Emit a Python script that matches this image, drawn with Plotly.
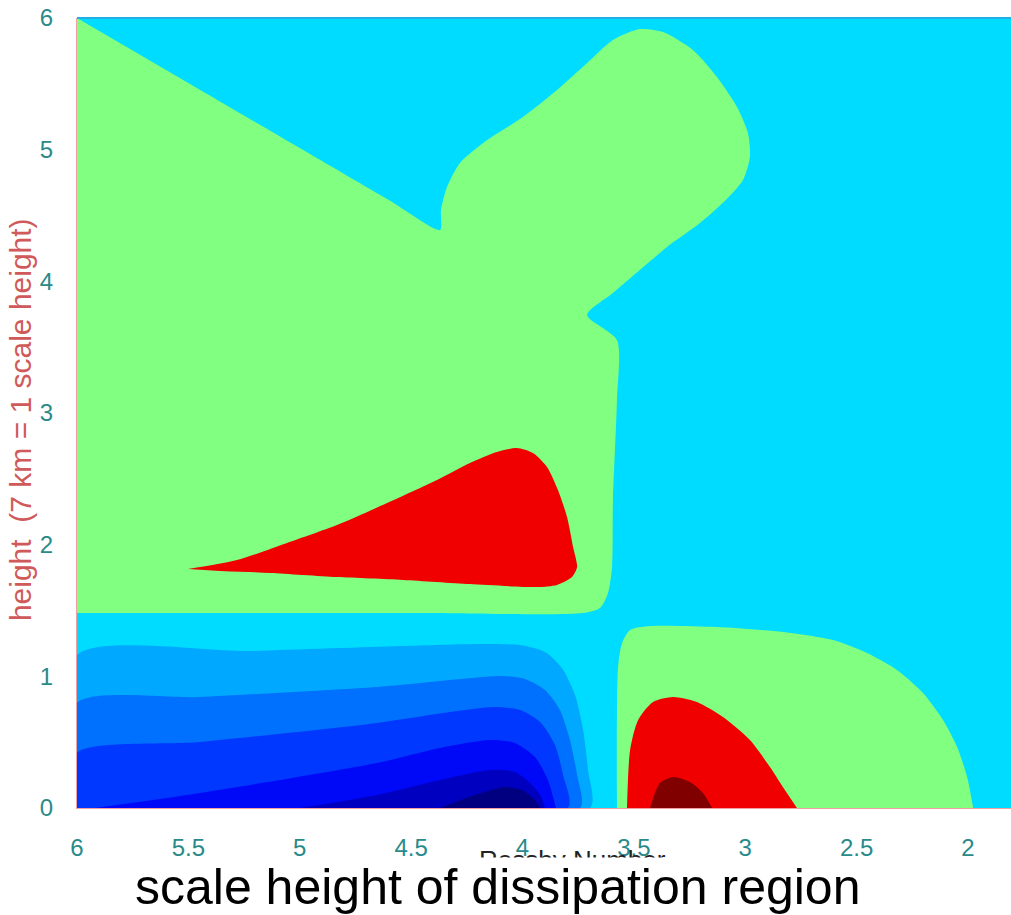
import plotly.graph_objects as go

# ---- axis ticks ----
x_ticks = [6, 5.5, 5, 4.5, 4, 3.5, 3, 2.5, 2]
x_ticktext = ["6", "5.5", "5", "4.5", "4", "3.5", "3", "2.5", "2"]
y_ticks = [0, 1, 2, 3, 4, 5, 6]
y_ticktext = ["0", "1", "2", "3", "4", "5", "6"]

# ---- region boundaries (data units: x = scale height, y = height) ----
green_upper_x = [6.0, 5.5, 5.0, 4.6, 4.370, 4.366, 4.339, 4.281, 4.159, 3.998, 3.845, 3.710, 3.594,
                 3.473, 3.369, 3.235, 3.127, 3.037, 2.988, 2.979, 3.010, 3.100, 3.203, 3.351, 3.473,
                 3.594, 3.710, 3.576, 3.576, 3.594, 3.598, 3.616, 3.652, 3.728, 4.5, 6.0]
green_upper_y = [6.0, 5.506, 5.012, 4.617, 4.390, 4.542, 4.716, 4.899, 5.073, 5.248, 5.453, 5.658, 5.833,
                 5.916, 5.894, 5.757, 5.552, 5.324, 5.127, 4.944, 4.770, 4.596, 4.443, 4.261, 4.086,
                 3.911, 3.744, 3.554, 3.099, 2.339, 1.830, 1.633, 1.519, 1.481, 1.481, 1.481]

red_upper_x = [5.502, 5.282, 5.057, 4.833, 4.608, 4.384, 4.236, 4.115, 4.025, 3.953, 3.890, 3.841,
               3.800, 3.773, 3.755, 3.778, 3.845, 3.935, 4.236, 4.536, 4.833, 5.134, 5.358]
red_upper_y = [1.815, 1.883, 2.013, 2.149, 2.316, 2.491, 2.620, 2.704, 2.734, 2.696, 2.590, 2.415,
               2.210, 1.982, 1.830, 1.754, 1.694, 1.678, 1.701, 1.732, 1.754, 1.785, 1.800]

green_lower_x = [3.576, 3.571, 3.553, 3.517, 3.428, 3.127, 2.830, 2.606, 2.453, 2.319, 2.202,
                 2.112, 2.049, 2.004, 1.977]
green_lower_y = [0.0, 1.071, 1.253, 1.352, 1.382, 1.375, 1.337, 1.276, 1.177, 1.048, 0.873,
                 0.668, 0.463, 0.235, 0.0]

red_lower_x = [3.531, 3.517, 3.481, 3.414, 3.324, 3.217, 3.100, 2.979, 2.889, 2.831, 2.768]
red_lower_y = [0.0, 0.440, 0.668, 0.805, 0.843, 0.805, 0.691, 0.516, 0.311, 0.159, 0.0]

darkred_x = [3.428, 3.383, 3.324, 3.248, 3.190, 3.149]
darkred_y = [0.0, 0.190, 0.235, 0.197, 0.114, 0.0]

blue1_x = [6.0, 5.223, 4.550, 4.191, 4.011, 3.899, 3.823, 3.764, 3.728, 3.706, 3.697]
blue1_y = [1.162, 1.192, 1.230, 1.246, 1.238, 1.185, 1.063, 0.858, 0.592, 0.289, 0.0]
blue2_x = [6.0, 5.448, 4.653, 4.325, 4.101, 3.989, 3.899, 3.832, 3.787, 3.755, 3.742]
blue2_y = [0.797, 0.843, 0.919, 0.972, 1.003, 0.980, 0.896, 0.744, 0.516, 0.251, 0.0]
blue3_x = [6.0, 5.448, 4.653, 4.325, 4.123, 4.011, 3.921, 3.854, 3.818, 3.796]
blue3_y = [0.418, 0.501, 0.646, 0.729, 0.767, 0.744, 0.653, 0.478, 0.251, 0.0]
blue4_x = [5.919, 5.448, 4.653, 4.370, 4.146, 4.034, 3.944, 3.886, 3.850]
blue4_y = [0.0, 0.114, 0.342, 0.456, 0.516, 0.494, 0.387, 0.213, 0.0]
blue5_x = [4.999, 4.653, 4.370, 4.146, 4.034, 3.966, 3.921, 3.899]
blue5_y = [0.0, 0.099, 0.213, 0.289, 0.273, 0.190, 0.099, 0.0]
blue6_x = [4.370, 4.213, 4.079, 4.002, 3.944, 3.921]
blue6_y = [0.0, 0.099, 0.159, 0.137, 0.061, 0.0]

# (x, y, colour, closes along left edge)
regions = [
    (green_upper_x, green_upper_y, "#80FF80", False),
    (red_upper_x, red_upper_y, "#F00000", False),
    (green_lower_x, green_lower_y, "#80FF80", False),
    (red_lower_x, red_lower_y, "#F00000", False),
    (darkred_x, darkred_y, "#800000", False),
    (blue1_x, blue1_y, "#00A8FF", True),
    (blue2_x, blue2_y, "#0070FF", True),
    (blue3_x, blue3_y, "#0038FF", True),
    (blue4_x, blue4_y, "#0008F8", False),
    (blue5_x, blue5_y, "#0000C0", False),
    (blue6_x, blue6_y, "#000080", False),
]

fig = go.Figure()
for xs, ys, col, left_close in regions:
    xs = list(xs)
    ys = list(ys)
    if left_close:
        xs = [6.0] + xs + [6.0]
        ys = [0.0] + ys + [0.0]
    fig.add_trace(go.Scatter(x=xs, y=ys, mode="lines", fill="toself", fillcolor=col,
                             line=dict(width=0, color=col, shape="spline", smoothing=0.7),
                             hoverinfo="skip", showlegend=False))

tick_font = dict(family="Liberation Sans Narrow, Liberation Sans, Arial", size=24, color="#2a8a8a")

fig.update_layout(
    width=1011, height=915,
    margin=dict(l=77, r=0, t=18, b=107),
    paper_bgcolor="white",
    plot_bgcolor="#00DCFF",
    showlegend=False,
    xaxis=dict(range=[6, 1.807], tickmode="array", tickvals=x_ticks, ticktext=x_ticktext,
               showgrid=False, zeroline=False, showline=True, linecolor="#f0a0a0", linewidth=1,
               ticks="", tickfont=tick_font, ticklabelstandoff=18),
    yaxis=dict(range=[0, 6], tickmode="array", tickvals=y_ticks, ticktext=y_ticktext,
               showgrid=False, zeroline=False, showline=True, linecolor="#f0a0a0", linewidth=1,
               ticks="", tickfont=tick_font, ticklabelstandoff=18),
    shapes=[dict(type="line", xref="paper", yref="paper", x0=0, x1=1, y0=1, y1=1,
                 line=dict(color="#20B0E8", width=2))],
    annotations=[
        dict(text="height  (7 km = 1 scale height)", xref="paper", yref="paper", x=0, y=0.491,
             xshift=-57, textangle=-90, showarrow=False, xanchor="center", yanchor="middle",
             font=dict(family="Liberation Sans, Arial", size=30, color="#d05a5a")),
        dict(text="Rossby Number", xref="paper", yref="paper", x=0.531, y=0, yshift=-52,
             showarrow=False, xanchor="center", yanchor="middle",
             font=dict(family="Liberation Sans, Arial", size=26, color="#222222")),
        dict(text="", xref="paper", yref="paper", x=0.5, y=0, yshift=-76, width=1011, height=52,
             bgcolor="white", borderpad=0, showarrow=False, xanchor="center", yanchor="middle"),
        dict(text="scale height of dissipation region", xref="paper", yref="paper", x=0.4497, y=0,
             yshift=-79, showarrow=False, xanchor="center", yanchor="middle",
             font=dict(family="Liberation Sans, Arial", size=50, color="black")),
    ],
)

fig.write_html("out.html")
